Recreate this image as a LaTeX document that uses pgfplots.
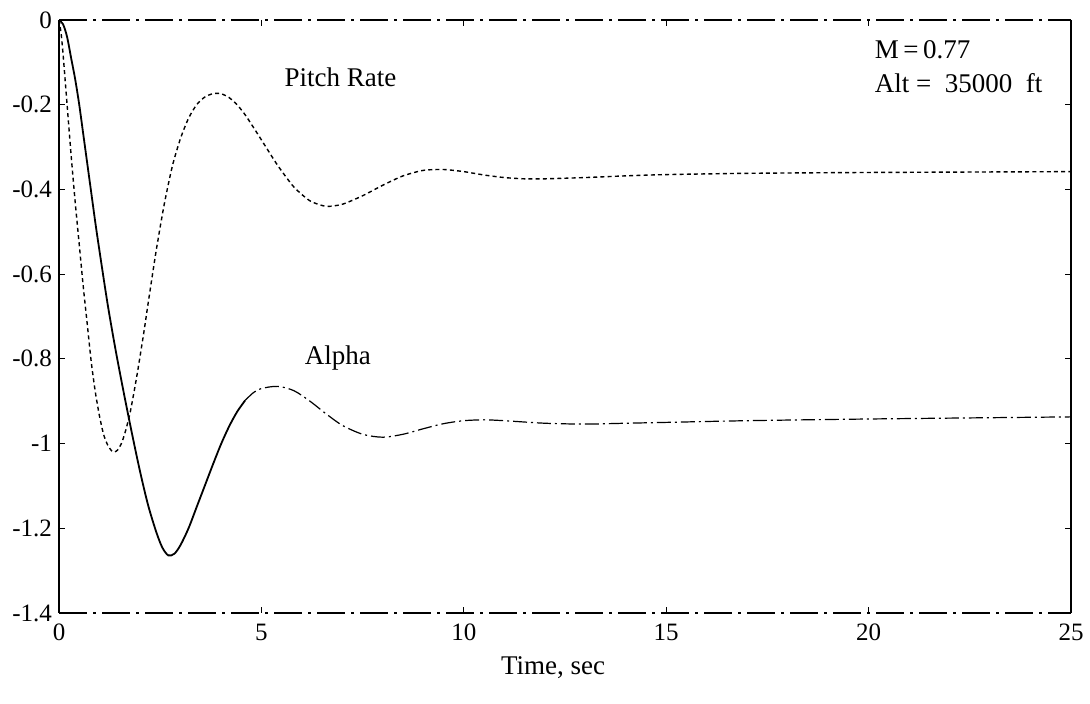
\documentclass[border=0pt]{standalone}
\usepackage{fontspec}
\setmainfont{Liberation Serif}
\usepackage{pgfplots}
\pgfplotsset{compat=1.18}
\begin{document}
\begin{tikzpicture}
\useasboundingbox (-29.5pt,-45.5pt) rectangle (515.5pt,306.5pt);
\begin{axis}[
  scale only axis,
  width=506pt, height=296.5pt,
  xmin=0, xmax=25, ymin=-1.4, ymax=0,
  xtick={0,5,10,15,20,25},
  xticklabels={0,5,10,15,20,25},
  ytick={0,-0.2,-0.4,-0.6,-0.8,-1,-1.2,-1.4},
  yticklabels={0,-0.2,-0.4,-0.6,-0.8,-1,-1.2,-1.4},
  tick align=inside,
  major tick length=3pt,
  tick style={black, line width=0.6pt},
  ticklabel style={font=\fontsize{12.5}{14}\selectfont},
  xticklabel style={yshift=-2pt},
  separate axis lines,
  y axis line style={line width=0.9pt},
  x axis line style={line width=0.7pt, dash pattern=on 14pt off 3pt on 1.5pt off 3pt},
  xlabel={Time, sec},
  xlabel style={font=\fontsize{13.5}{15}\selectfont, at={(axis description cs:0.5,0)}, anchor=base, yshift=-31pt, xshift=-6pt},
  clip=true,
]
% Pitch Rate (dotted)
\addplot[black, line width=0.7pt, dash pattern=on 2pt off 1.6pt, smooth, tension=0.4] coordinates {
(0,0) (0.05,-0.03) (0.1,-0.08) (0.2,-0.2) (0.3,-0.32) (0.4,-0.43) (0.5,-0.53)
(0.6,-0.63) (0.7,-0.72) (0.8,-0.81) (0.9,-0.88) (1.0,-0.935) (1.1,-0.978)
(1.2,-1.003) (1.3,-1.017) (1.37,-1.02) (1.45,-1.015) (1.55,-0.998) (1.65,-0.968)
(1.75,-0.93) (1.85,-0.88) (1.95,-0.825) (2.1,-0.735) (2.2,-0.67) (2.4,-0.545)
(2.6,-0.435) (2.8,-0.345) (3.0,-0.28) (3.2,-0.232) (3.4,-0.2) (3.6,-0.182)
(3.8,-0.174) (4.0,-0.174) (4.2,-0.183) (4.4,-0.2) (4.6,-0.224) (4.8,-0.253)
(5.0,-0.283) (5.4,-0.343) (5.8,-0.394) (6.2,-0.427) (6.6,-0.44) (7.0,-0.435)
(7.5,-0.415) (8.0,-0.39) (8.5,-0.368) (9.0,-0.355) (9.5,-0.353) (10.0,-0.358)
(10.5,-0.366) (11.0,-0.372) (11.5,-0.375) (12.0,-0.375) (13,-0.372) (14,-0.368)
(15,-0.365) (17,-0.362) (20,-0.36) (25,-0.358)
};
% Alpha (solid part)
\addplot[black, line width=0.9pt, smooth, tension=0.5] coordinates {
(0,0) (0.1,-0.01) (0.2,-0.04) (0.3,-0.09) (0.4,-0.14) (0.5,-0.2) (0.6,-0.27)
(0.7,-0.34) (0.8,-0.41) (0.9,-0.48) (1.0,-0.545) (1.2,-0.67) (1.4,-0.78)
(1.6,-0.88) (1.8,-0.975) (2.0,-1.065) (2.2,-1.145) (2.4,-1.208) (2.55,-1.245)
(2.7,-1.264) (2.85,-1.26) (3.0,-1.24) (3.2,-1.2) (3.4,-1.15) (3.6,-1.1)
(3.8,-1.05) (4.0,-1.002) (4.2,-0.96) (4.4,-0.925) (4.6,-0.898)
};
% Alpha (faint continuation)
\addplot[black, line width=0.6pt, dash pattern=on 7pt off 2pt on 1pt off 2pt, smooth, tension=0.5] coordinates {
(4.6,-0.898) (4.8,-0.88) (5.0,-0.87) (5.4,-0.865) (5.8,-0.875) (6.2,-0.9)
(6.6,-0.93) (7.0,-0.957) (7.5,-0.978) (8.0,-0.985) (8.5,-0.978) (9.0,-0.965)
(9.5,-0.953) (10.0,-0.946) (10.5,-0.944) (11,-0.946) (12,-0.952) (13,-0.954)
(14,-0.952) (15,-0.95) (17,-0.946) (20,-0.942) (25,-0.937)
};
\node[anchor=base west, font=\fontsize{13.5}{15}\selectfont] at (axis cs:5.4,-0.158) {Pitch Rate};
\node[anchor=base west, font=\fontsize{13.5}{15}\selectfont] at (axis cs:5.9,-0.814) {Alpha};
\node[anchor=base west, font=\fontsize{13.5}{15}\selectfont] at (axis cs:19.98,-0.09) {M\,=\,0.77};
\node[anchor=base west, font=\fontsize{13.5}{15}\selectfont] at (axis cs:19.98,-0.172) {Alt\ =\ \ 35000\ \ ft};
\end{axis}
\end{tikzpicture}
\end{document}
